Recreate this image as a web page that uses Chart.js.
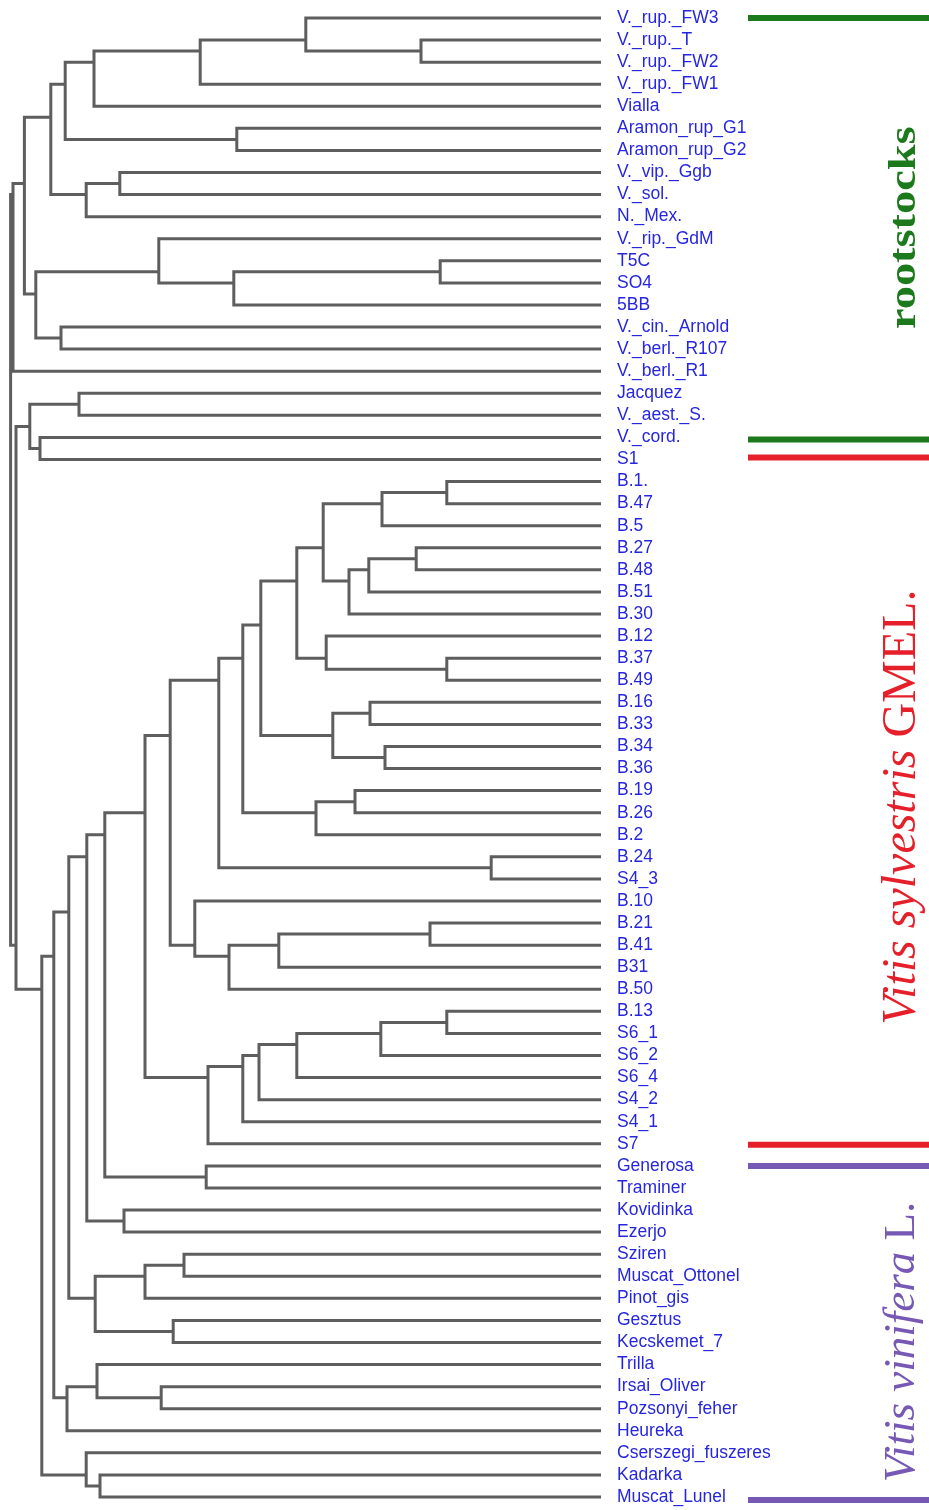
<!DOCTYPE html>
<html>
<head>
<meta charset="utf-8">
<script src="https://cdn.jsdelivr.net/npm/chart.js@4.4.1/dist/chart.umd.min.js"></script>
<style>
  html, body { margin: 0; padding: 0; background: #fff; overflow: hidden; }
  #wrap { width: 929px; height: 1510px; position: relative; }
  canvas { display: block; }
</style>
</head>
<body>
<div id="wrap"><canvas id="chart"></canvas></div>
<script>
// leaves, top to bottom
const leafLabels = [
  "V._rup._FW3", "V._rup._T", "V._rup._FW2", "V._rup._FW1", "Vialla",
  "Aramon_rup_G1", "Aramon_rup_G2", "V._vip._Ggb", "V._sol.", "N._Mex.",
  "V._rip._GdM", "T5C", "SO4", "5BB", "V._cin._Arnold", "V._berl._R107",
  "V._berl._R1", "Jacquez", "V._aest._S.", "V._cord.", "S1",
  "B.1.", "B.47", "B.5", "B.27", "B.48", "B.51", "B.30", "B.12", "B.37",
  "B.49", "B.16", "B.33", "B.34", "B.36", "B.19", "B.26", "B.2", "B.24",
  "S4_3", "B.10", "B.21", "B.41", "B31", "B.50", "B.13", "S6_1", "S6_2",
  "S6_4", "S4_2", "S4_1", "S7", "Generosa", "Traminer", "Kovidinka",
  "Ezerjo", "Sziren", "Muscat_Ottonel", "Pinot_gis", "Gesztus",
  "Kecskemet_7", "Trilla", "Irsai_Oliver", "Pozsonyi_feher", "Heureka",
  "Cserszegi_fuszeres", "Kadarka", "Muscat_Lunel"
];

// hclust style merges: negative = leaf number, positive = earlier merge
const mergeLeft = [
  -2, -1, 2, 3, -6, 4, -8, 7, 6, -12, 10, -11, -15, 12, 9, 15, -18, -20, 17,
  -22, 20, -25, 22, 23, 21, -30, -29, 25, -32, -34, 29, 28, -36, 33, 32, -39,
  35, -42, 38, 39, -41, 37, -46, 43, 44, 45, 46, 47, 42, -53, 49, -55, 51,
  -57, 54, -60, 55, 53, -63, -62, 60, 58, -67, -66, 62, 19, 16
];
const mergeRight = [
  -3, 1, -4, -5, -7, 5, -9, -10, 8, -13, -14, 11, -16, 13, 14, -17, -19, -21, 18,
  -23, -24, -26, -27, -28, 24, -31, 26, 27, -33, -35, 30, 31, -37, -38, 34, -40,
  36, -43, -44, -45, 40, 41, -47, -48, -49, -50, -51, -52, 48, -54, 50, -56, 52,
  -58, -59, -61, 56, 57, -64, 59, -65, 61, -68, 63, 64, 65, 66
];
const mergeHeight = [
  0.300, 0.492, 0.668, 0.845, 0.607, 0.893, 0.802, 0.858, 0.917, 0.268,
  0.612, 0.737, 0.900, 0.942, 0.961, 0.980, 0.870, 0.935, 0.952, 0.257,
  0.365, 0.308, 0.387, 0.420, 0.463, 0.257, 0.458, 0.507, 0.385, 0.360,
  0.447, 0.567, 0.410, 0.475, 0.597, 0.183, 0.637, 0.285, 0.537, 0.620,
  0.677, 0.718, 0.257, 0.367, 0.507, 0.570, 0.597, 0.655, 0.760, 0.658,
  0.827, 0.795, 0.857, 0.695, 0.760, 0.713, 0.843, 0.887, 0.733, 0.840,
  0.890, 0.912, 0.835, 0.858, 0.932, 0.975, 0.984
];

// groups marked on the right
const groupNames = ["rootstocks", "Vitis sylvestris", "Vitis vinifera"];
const groupTails = ["", " GMEL.", " L."];
const groupColors = ["#1c7a1c", "#e5202b", "#7758b4"];
const groupFirst = [0, 20, 52];
const groupLast = [19, 51, 67];

// node position = mean index of the leaves below it
const nodeSum = [], nodeCount = [];
function info(ref) {
  if (ref < 0) return { sum: -ref - 1, count: 1, h: 0 };
  return { sum: nodeSum[ref - 1], count: nodeCount[ref - 1], h: mergeHeight[ref - 1] };
}

const datasets = mergeHeight.map((h, i) => {
  const a = info(mergeLeft[i]);
  const b = info(mergeRight[i]);
  nodeSum[i] = a.sum + b.sum;
  nodeCount[i] = a.count + b.count;
  const ya = a.sum / a.count;
  const yb = b.sum / b.count;
  return {
    data: [{ x: a.h, y: ya }, { x: h, y: ya }, { x: h, y: yb }, { x: b.h, y: yb }],
    showLine: true,
    borderColor: "#5e5e5e",
    borderWidth: 3,
    pointRadius: 0,
    fill: false,
    tension: 0,
    clip: false
  };
});

const groupPlugin = {
  id: "groups",
  afterDraw(chart) {
    const ctx = chart.ctx;
    const ys = chart.scales.y;
    const barShift = [[0, 2], [-2, 1], [0, 3]];
    const textShift = [-1, 6, 9];
    const textX = [915, 915, 914];
    const stretch = [1.22, 1, 1];
    const mainFonts = ["bold 38px 'Liberation Serif', 'Times New Roman', serif",
                       "italic 48px 'Liberation Serif', 'Times New Roman', serif",
                       "italic 45px 'Liberation Serif', 'Times New Roman', serif"];
    const tailFonts = ["bold 38px 'Liberation Serif', serif",
                       "48px 'Liberation Serif', 'Times New Roman', serif",
                       "45px 'Liberation Serif', 'Times New Roman', serif"];

    groupNames.forEach((name, g) => {
      const y1 = ys.getPixelForValue(groupFirst[g]) + barShift[g][0];
      const y2 = ys.getPixelForValue(groupLast[g]) + barShift[g][1];
      ctx.save();
      ctx.strokeStyle = groupColors[g];
      ctx.lineWidth = 6;
      [y1, y2].forEach(y => {
        ctx.beginPath();
        ctx.moveTo(748, y);
        ctx.lineTo(929, y);
        ctx.stroke();
      });

      ctx.font = mainFonts[g];
      const w1 = ctx.measureText(name).width;
      ctx.font = tailFonts[g];
      const w2 = ctx.measureText(groupTails[g]).width;
      ctx.translate(textX[g], (y1 + y2) / 2 + textShift[g]);
      ctx.rotate(-Math.PI / 2);
      ctx.scale(stretch[g], 1);
      ctx.fillStyle = groupColors[g];
      ctx.textAlign = "left";
      ctx.textBaseline = "alphabetic";
      const x0 = -(w1 + w2) / 2;
      ctx.font = mainFonts[g];
      ctx.fillText(name, x0, 0);
      ctx.font = tailFonts[g];
      ctx.fillText(groupTails[g], x0 + w1, 0);
      ctx.restore();
    });
  }
};

new Chart(document.getElementById("chart"), {
  type: "scatter",
  data: { datasets: datasets },
  options: {
    responsive: true,
    maintainAspectRatio: false,
    animation: false,
    layout: { padding: { left: 1, right: 0, top: 18, bottom: 13 } },
    plugins: { legend: { display: false }, tooltip: { enabled: false } },
    scales: {
      x: { type: "linear", reverse: true, min: 0, max: 1, display: false },
      y: {
        type: "linear",
        position: "right",
        reverse: true,
        min: 0,
        max: leafLabels.length - 1,
        afterFit: s => {
          s.width = 328;
          s.paddingTop = 0;
          s.paddingBottom = 0;
        },
        grid: { display: false, drawTicks: false },
        border: { display: false },
        ticks: {
          stepSize: 1,
          autoSkip: false,
          padding: 16,
          color: "#2626e0",
          font: { family: "'Liberation Sans', Arial, sans-serif", size: 17.5 },
          callback: v => leafLabels[v] ?? ""
        }
      }
    }
  },
  plugins: [groupPlugin]
});
</script>
</body>
</html>
